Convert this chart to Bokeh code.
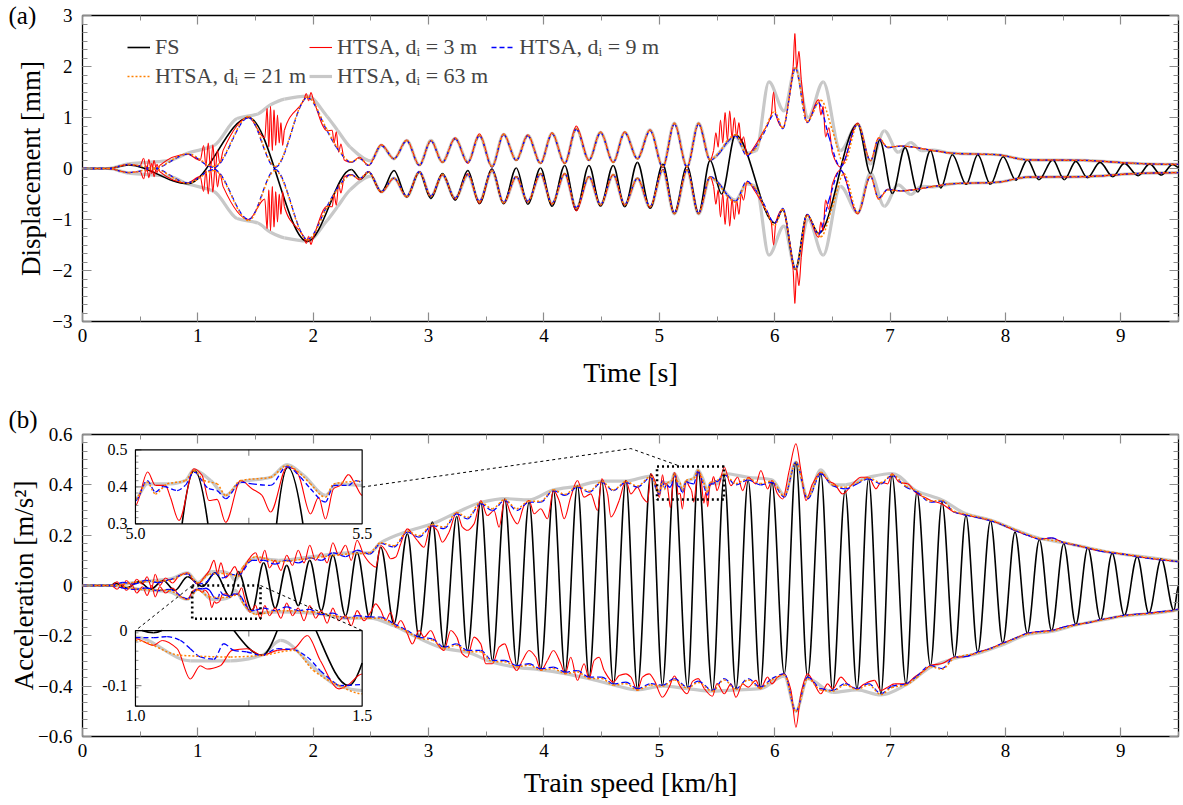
import numpy as np
from bokeh.plotting import figure
from bokeh.layouts import column
from bokeh.models import (Range1d, FixedTicker, LinearAxis, Legend, LegendItem,
                          CustomJSTickFormatter, ColumnDataSource)
from bokeh.core.properties import value
from bokeh.embed import file_html
from bokeh.resources import INLINE

FONT = "Liberation Serif"

# ---------------- Panel (a): displacement [mm] vs time [s] ----------------
A_FS = [(0.00,0.00),(0.22,0.00),(0.40,0.07),(0.91,-0.30),(1.44,1.00),(1.95,-1.43),(2.33,-0.02),
        (2.41,-0.20),(2.48,-0.07),(2.59,-0.46),(2.70,-0.04),(2.81,-0.56),(2.92,-0.07),(3.02,-0.59),
        (3.12,-0.10),(3.23,-0.62),(3.34,-0.04),(3.44,-0.69),(3.55,-0.01),(3.65,-0.69),(3.76,0.01),
        (3.86,-0.70),(3.97,0.01),(4.07,-0.74),(4.18,0.06),(4.28,-0.82),(4.39,0.06),(4.49,-0.74),
        (4.60,0.06),(4.70,-0.75),(4.81,0.12),(4.92,-0.78),(5.03,0.08),(5.13,-0.88),(5.24,0.05),
        (5.34,-0.88),(5.44,0.16),(5.54,-0.50),(5.66,0.66),(6.00,-1.07),(6.07,-0.81),(6.18,-1.98),
        (6.28,-0.91),(6.38,-1.27),(6.72,0.87),(6.83,-0.10),(6.91,0.56),(7.02,-0.49),(7.13,0.41),
        (7.24,-0.46),(7.35,0.35),(7.44,-0.38),(7.54,0.27),(7.66,-0.31),(7.76,0.27),(7.87,-0.31),
        (7.98,0.23),(8.09,-0.23),(8.19,0.17),(8.29,-0.22),(8.41,0.17),(8.51,-0.22),(8.61,0.14),
        (8.71,-0.18),(8.82,0.12),(8.93,-0.16),(9.03,0.10),(9.15,-0.14),(9.25,0.09),(9.35,-0.13),
        (9.45,0.08),(9.50,0.02)]
A_D9 = [(0.00,0.00),(0.22,0.00),(0.40,0.08),(0.62,0.00),(0.91,0.28),(1.14,0.02),(1.44,1.00),
        (1.67,0.02),(1.95,1.39),(2.12,0.74),(2.20,0.42),(2.33,0.12),(2.40,0.20),(2.48,0.06),
        (2.59,0.45),(2.70,0.19),(2.81,0.54),(2.92,0.06),(3.02,0.54),(3.12,0.12),(3.23,0.58),
        (3.34,0.12),(3.44,0.64),(3.55,0.03),(3.65,0.66),(3.76,0.16),(3.86,0.64),(3.97,0.10),
        (4.07,0.68),(4.18,0.10),(4.28,0.77),(4.39,0.16),(4.49,0.70),(4.60,0.12),(4.70,0.70),
        (4.81,0.19),(4.92,0.74),(5.03,0.02),(5.13,0.87),(5.24,0.02),(5.34,0.87),(5.44,0.16),
        (5.52,0.30),(5.59,0.52),(5.66,0.64),(5.76,0.25),(5.83,0.41),(5.90,0.67),(6.00,1.07),
        (6.07,0.78),(6.18,1.97),(6.28,0.90),(6.38,1.29),(6.47,0.62),(6.57,0.03),(6.72,0.87),
        (6.83,0.15),(6.90,0.58),(6.98,0.41),(7.09,0.44),(7.38,0.35),(7.53,0.30),(7.93,0.27),
        (8.19,0.17),(8.68,0.16),(9.12,0.10),(9.50,0.08)]
A_D3 = [(0.00,0.00),(0.22,0.00),(0.40,0.08),(0.50,0.06),(0.53,0.20),(0.555,-0.05),(0.575,0.18),
        (0.60,-0.10),(0.62,0.16),(0.645,-0.08),(0.67,0.06),(0.91,0.28),(1.02,0.16),(1.05,0.45),
        (1.07,0.04),(1.09,0.50),(1.11,-0.02),(1.13,0.46),(1.15,-0.05),(1.17,0.36),(1.19,0.10),
        (1.22,0.36),(1.44,1.00),(1.58,0.60),(1.60,1.18),(1.615,0.42),(1.63,1.22),(1.645,0.35),
        (1.66,1.15),(1.675,0.45),(1.69,1.05),(1.705,0.50),(1.72,0.90),(1.735,0.45),(1.75,0.75),
        (1.92,1.35),(1.94,1.47),(1.96,1.33),(1.98,1.49),(2.00,1.36),(2.12,0.74),(2.165,0.75),
        (2.18,0.50),(2.20,0.72),(2.22,0.32),(2.24,0.48),(2.27,0.16),(2.33,0.12),(2.40,0.22),
        (2.48,0.06),(2.59,0.47),(2.70,0.19),(2.81,0.56),(2.92,0.06),(3.02,0.55),(3.12,0.12),
        (3.23,0.60),(3.34,0.10),(3.44,0.68),(3.55,0.03),(3.65,0.68),(3.76,0.16),(3.86,0.66),
        (3.97,0.10),(4.07,0.70),(4.18,0.10),(4.28,0.83),(4.39,0.16),(4.49,0.72),(4.60,0.12),
        (4.70,0.72),(4.81,0.19),(4.92,0.76),(5.03,0.02),(5.13,0.89),(5.24,0.02),(5.34,0.89),
        (5.44,0.16),(5.47,0.35),(5.49,0.70),(5.51,0.42),(5.53,0.95),(5.55,0.50),(5.57,1.10),
        (5.59,0.55),(5.61,1.13),(5.63,0.60),(5.65,1.00),(5.67,0.62),(5.69,0.90),(5.71,0.50),
        (5.73,0.62),(5.76,0.25),(5.83,0.45),(5.90,0.72),(5.97,1.05),(5.99,1.50),(6.01,1.05),
        (6.07,0.80),(6.13,1.45),(6.16,2.00),(6.175,2.65),(6.19,1.95),(6.21,2.30),(6.23,1.75),
        (6.28,0.90),(6.38,1.35),(6.40,1.05),(6.42,1.22),(6.44,0.62),(6.47,0.80),(6.50,0.30),
        (6.57,0.03),(6.72,0.89),(6.83,0.15),(6.90,0.60),(6.98,0.41),(7.09,0.44),(7.38,0.35),
        (7.53,0.30),(7.93,0.27),(8.19,0.17),(8.68,0.16),(9.12,0.10),(9.50,0.08)]
A_D21 = [(0.00,0.00),(0.22,0.00),(0.40,0.08),(0.62,0.01),(0.91,0.29),(1.14,0.04),(1.44,1.02),
         (1.67,0.04),(1.95,1.40),(2.12,0.76),(2.20,0.44),(2.33,0.13),(2.40,0.20),(2.48,0.07),
         (2.59,0.46),(2.70,0.19),(2.81,0.55),(2.92,0.07),(3.02,0.55),(3.12,0.12),(3.23,0.59),
         (3.34,0.12),(3.44,0.65),(3.55,0.04),(3.65,0.67),(3.76,0.16),(3.86,0.65),(3.97,0.10),
         (4.07,0.69),(4.18,0.10),(4.28,0.78),(4.39,0.16),(4.49,0.71),(4.60,0.12),(4.70,0.71),
         (4.81,0.19),(4.92,0.75),(5.03,0.03),(5.13,0.88),(5.24,0.03),(5.34,0.88),(5.44,0.17),
         (5.52,0.32),(5.59,0.55),(5.66,0.66),(5.76,0.28),(5.83,0.38),(5.92,0.80),(6.00,1.12),
         (6.07,0.80),(6.18,1.97),(6.28,0.92),(6.40,1.34),(6.50,0.75),(6.60,0.10),(6.72,0.87),
         (6.83,0.15),(6.90,0.60),(6.98,0.42),(7.09,0.44),(7.38,0.35),(7.53,0.30),(7.93,0.27),
         (8.19,0.17),(8.68,0.16),(9.12,0.10),(9.50,0.08)]
A_D63 = [(0.00,0.00),(0.22,0.00),(0.40,0.09),(0.56,0.12),(0.76,0.16),(0.91,0.30),(1.14,0.45),
         (1.34,0.98),(1.52,1.07),(1.63,1.25),(1.75,1.36),(1.95,1.42),(2.12,1.02),(2.21,0.75),
         (2.32,0.42),(2.50,0.15),(2.59,0.46),(2.70,0.19),(2.81,0.55),(2.92,0.07),(3.02,0.55),
         (3.12,0.13),(3.23,0.59),(3.34,0.13),(3.44,0.65),(3.55,0.05),(3.65,0.67),(3.76,0.17),
         (3.86,0.65),(3.97,0.11),(4.07,0.69),(4.18,0.11),(4.28,0.78),(4.39,0.17),(4.49,0.71),
         (4.60,0.13),(4.70,0.71),(4.81,0.20),(4.92,0.76),(5.03,0.04),(5.13,0.89),(5.24,0.04),
         (5.34,0.89),(5.44,0.18),(5.66,0.62),(5.76,0.30),(5.84,0.35),(5.95,1.70),(6.08,1.13),
         (6.18,1.97),(6.29,1.00),(6.42,1.70),(6.57,0.35),(6.72,0.87),(6.83,0.09),(6.95,0.74),
         (7.07,0.32),(7.18,0.51),(7.27,0.35),(7.38,0.36),(7.53,0.30),(7.93,0.27),(8.19,0.17),
         (8.68,0.16),(9.12,0.10),(9.50,0.08)]

# ---------------- Panel (b): acceleration [m/s^2] ----------------
B_FS = [(0.00,0.0),(0.25,0.0),(0.28,0.01),(0.38,-0.01),(0.49,0.015),(0.59,-0.015),(0.70,0.02),
        (0.80,-0.02),(0.91,0.035),(1.04,-0.004),(1.15,0.05),(1.28,-0.045),(1.35,0.055),(1.47,-0.10),
        (1.57,0.09),(1.67,-0.09),(1.77,0.08),(1.87,-0.08),(1.97,0.10),(2.07,-0.10),(2.17,0.12),
        (2.28,-0.12),(2.38,0.13),(2.49,-0.13),(2.585,0.152),(2.70,-0.152),(2.816,0.205),
        (2.917,-0.205),(3.033,0.252),(3.134,-0.245),(3.244,0.274),(3.336,-0.258),(3.452,0.331),
        (3.553,-0.298),(3.66,0.344),(3.764,-0.318),(3.871,0.331),(3.972,-0.331),(4.082,0.377),
        (4.183,-0.344),(4.29,0.397),(4.391,-0.364),(4.501,0.417),(4.602,-0.391),(4.71,0.417),
        (4.81,-0.41),(4.926,0.444),(5.027,-0.397),(5.13,0.444),(5.244,-0.404),(5.336,0.453),
        (5.461,-0.417),(5.562,0.437),(5.664,-0.41),(5.77,0.417),(5.875,-0.404),(5.976,0.41),
        (6.083,-0.351),(6.184,0.49),(6.285,-0.364),(6.40,0.444),(6.502,-0.417),(6.611,0.377),
        (6.713,-0.41),(6.814,0.424),(6.921,-0.43),(7.017,0.437),(7.138,-0.391),(7.233,0.371),
        (7.35,-0.318),(7.45,0.331),(7.558,-0.285),(7.658,0.278),(7.76,-0.265),(7.87,0.256),
        (7.977,-0.229),(8.083,0.212),(8.19,-0.19),(8.294,0.182),(8.40,-0.179),(8.505,0.166),
        (8.61,-0.155),(8.714,0.15),(8.824,-0.136),(8.925,0.128),(9.03,-0.119),(9.142,0.115),
        (9.243,-0.11),(9.35,0.106),(9.46,-0.099),(9.50,0.0)]
B_D9_UP = [(0.00,0.0),(0.25,0.0),(0.35,0.012),(0.45,0.006),(0.55,0.02),(0.65,0.012),(0.75,0.022),
           (0.91,0.046),(1.00,0.005),(1.07,0.012),(1.15,0.05),(1.22,0.03),(1.28,0.045),(1.35,0.04),
           (1.47,0.10),(1.57,0.10),(1.67,0.085),(1.77,0.10),(1.87,0.09),(1.97,0.11),(2.07,0.10),
           (2.17,0.13),(2.28,0.115),(2.38,0.14),(2.49,0.125),(2.585,0.167),(2.70,0.153),
           (2.816,0.212),(2.917,0.192),(3.033,0.238),(3.134,0.226),(3.244,0.285),(3.336,0.265),
           (3.452,0.325),(3.553,0.298),(3.66,0.338),(3.764,0.298),(3.871,0.331),(3.972,0.331),
           (4.082,0.377),(4.183,0.358),(4.29,0.391),(4.391,0.371),(4.501,0.41),(4.602,0.377),
           (4.71,0.41),(4.81,0.391),(4.926,0.43),(5.0,0.363),(5.026,0.417),(5.044,0.386),
           (5.062,0.401),(5.092,0.390),(5.110,0.404),(5.129,0.440),(5.162,0.395),(5.180,0.390),
           (5.199,0.368),(5.232,0.413),(5.257,0.408),(5.298,0.404),(5.334,0.455),(5.364,0.426),
           (5.386,0.395),(5.419,0.359),(5.437,0.404),(5.470,0.404),(5.485,0.417),(5.5,0.413),
           (5.562,0.44),(5.664,0.40),(5.77,0.42),(5.875,0.40),(5.976,0.41),(6.083,0.351),
           (6.184,0.49),(6.285,0.344),(6.40,0.444),(6.502,0.397),(6.611,0.384),(6.713,0.404),
           (6.814,0.424),(6.921,0.404),(7.017,0.437),(7.138,0.391),(7.233,0.371),(7.35,0.331),
           (7.45,0.335),(7.558,0.291),(7.658,0.28),(7.76,0.27),(7.87,0.258),(7.977,0.24),
           (8.083,0.219),(8.19,0.20),(8.294,0.185),(8.40,0.189),(8.505,0.17),(8.61,0.16),
           (8.714,0.148),(8.824,0.137),(8.925,0.13),(9.03,0.124),(9.142,0.115),(9.243,0.108),
           (9.35,0.102),(9.46,0.097),(9.50,0.095)]
B_D9_LO = [(0.00,0.0),(0.25,0.0),(0.35,-0.01),(0.45,-0.015),(0.55,-0.01),(0.65,-0.02),(0.75,-0.015),
           (0.91,-0.053),(1.00,-0.013),(1.040,-0.013),(1.070,-0.011),(1.099,-0.018),(1.121,-0.033),
           (1.143,-0.048),(1.173,-0.052),(1.195,-0.024),(1.217,-0.036),(1.246,-0.039),(1.279,-0.045),
           (1.313,-0.033),(1.349,-0.035),(1.379,-0.048),(1.408,-0.073),(1.438,-0.094),(1.449,-0.100),
           (1.5,-0.098),(1.57,-0.09),(1.67,-0.10),(1.77,-0.085),(1.87,-0.10),(1.97,-0.095),
           (2.07,-0.115),(2.17,-0.11),(2.28,-0.13),(2.38,-0.12),(2.49,-0.125),(2.585,-0.126),
           (2.70,-0.152),(2.816,-0.179),(2.917,-0.205),(3.033,-0.212),(3.134,-0.245),(3.244,-0.232),
           (3.336,-0.258),(3.452,-0.258),(3.553,-0.298),(3.66,-0.298),(3.764,-0.318),(3.871,-0.311),
           (3.972,-0.331),(4.082,-0.324),(4.183,-0.344),(4.29,-0.338),(4.391,-0.364),(4.501,-0.364),
           (4.602,-0.391),(4.71,-0.384),(4.81,-0.41),(4.926,-0.39),(5.027,-0.397),(5.13,-0.37),
           (5.244,-0.404),(5.336,-0.38),(5.461,-0.417),(5.562,-0.37),(5.664,-0.41),(5.77,-0.37),
           (5.875,-0.404),(5.976,-0.37),(6.083,-0.351),(6.184,-0.50),(6.285,-0.364),(6.40,-0.41),
           (6.502,-0.417),(6.611,-0.39),(6.713,-0.41),(6.814,-0.39),(6.921,-0.43),(7.017,-0.40),
           (7.138,-0.391),(7.233,-0.36),(7.35,-0.318),(7.45,-0.33),(7.558,-0.285),(7.658,-0.282),
           (7.76,-0.265),(7.87,-0.25),(7.977,-0.229),(8.083,-0.21),(8.19,-0.19),(8.294,-0.183),
           (8.40,-0.179),(8.505,-0.165),(8.61,-0.155),(8.714,-0.148),(8.824,-0.136),(8.925,-0.128),
           (9.03,-0.119),(9.142,-0.114),(9.243,-0.11),(9.35,-0.104),(9.46,-0.099),(9.50,-0.094)]
B_D3_UP = [(0.00,0.0),(0.25,0.0),(0.30,0.015),(0.34,-0.01),(0.38,0.02),(0.43,0.0),(0.47,0.025),
           (0.52,0.005),(0.56,0.035),(0.60,-0.01),(0.63,0.045),(0.67,0.0),(0.72,0.03),(0.78,0.01),
           (0.84,0.04),(0.91,0.05),(0.96,0.02),(1.00,0.005),(1.05,0.03),(1.10,0.06),(1.14,0.10),
           (1.17,0.05),(1.20,0.09),(1.24,0.03),(1.28,0.05),(1.32,0.075),(1.36,0.04),(1.40,0.07),
           (1.45,0.11),(1.50,0.13),(1.54,0.09),(1.58,0.14),(1.62,0.07),(1.67,0.10),(1.72,0.06),
           (1.77,0.12),(1.82,0.08),(1.87,0.14),(1.92,0.09),(1.97,0.16),(2.02,0.10),(2.07,0.13),
           (2.12,0.09),(2.17,0.17),(2.22,0.12),(2.28,0.16),(2.33,0.10),(2.38,0.18),(2.44,0.12),
           (2.498,0.086),(2.541,0.073),(2.585,0.159),(2.628,0.139),(2.671,0.106),(2.715,0.113),
           (2.758,0.166),(2.816,0.225),(2.859,0.205),(2.902,0.179),(2.960,0.152),(3.018,0.238),
           (3.076,0.219),(3.119,0.172),(3.177,0.212),(3.244,0.291),(3.293,0.232),(3.336,0.219),
           (3.394,0.245),(3.452,0.338),(3.509,0.278),(3.567,0.298),(3.611,0.232),(3.660,0.344),
           (3.712,0.285),(3.770,0.245),(3.828,0.318),(3.871,0.338),(3.915,0.285),(3.972,0.305),
           (4.030,0.265),(4.082,0.377),(4.131,0.338),(4.175,0.265),(4.232,0.351),(4.290,0.417),
           (4.348,0.351),(4.406,0.364),(4.464,0.298),(4.501,0.424),(4.551,0.364),(4.580,0.272),
           (4.652,0.338),(4.710,0.417),(4.753,0.364),(4.810,0.391),(4.854,0.351),(4.898,0.331),
           (4.926,0.444),(4.970,0.404),(5.0,0.350),(5.027,0.440),(5.044,0.404),(5.066,0.404),
           (5.077,0.372),(5.096,0.309),(5.129,0.449),(5.147,0.431),(5.162,0.363),(5.180,0.366),
           (5.199,0.304),(5.232,0.417),(5.257,0.395),(5.279,0.377),(5.298,0.332),(5.334,0.453),
           (5.349,0.449),(5.360,0.431),(5.386,0.327),(5.404,0.372),(5.419,0.313),(5.437,0.395),
           (5.452,0.404),(5.470,0.433),(5.485,0.406),(5.5,0.377),(5.563,0.47),(5.621,0.397),
           (5.679,0.43),(5.722,0.377),(5.770,0.43),(5.837,0.404),(5.880,0.457),(5.938,0.384),
           (5.976,0.417),(6.025,0.364),(6.068,0.344),(6.126,0.457),(6.184,0.563),(6.227,0.457),
           (6.271,0.338),(6.328,0.404),(6.400,0.45),(6.459,0.417),(6.516,0.404),(6.589,0.364),
           (6.676,0.404),(6.748,0.43),(6.814,0.43),(6.878,0.384),(6.921,0.41),(6.979,0.404),
           (7.017,0.444),(7.080,0.41),(7.153,0.404),(7.233,0.364),(7.297,0.351),(7.355,0.338),
           (7.450,0.324)]
B_D3_LO = [(0.00,0.0),(0.25,0.0),(0.30,-0.015),(0.34,0.005),(0.38,-0.02),(0.43,0.0),(0.47,-0.03),
           (0.52,-0.005),(0.56,-0.04),(0.60,0.0),(0.63,-0.045),(0.67,-0.005),(0.72,-0.03),
           (0.78,-0.01),(0.84,-0.04),(0.91,-0.055),(0.96,-0.02),(1.0,-0.015),(1.040,-0.027),
           (1.059,-0.018),(1.092,-0.033),(1.121,-0.088),(1.143,-0.064),(1.158,-0.070),(1.187,-0.064),
           (1.213,-0.036),(1.246,-0.033),(1.279,-0.045),(1.313,-0.036),(1.349,-0.033),(1.379,-0.009),
           (1.408,-0.055),(1.449,-0.106),(1.467,-0.100),(1.5,-0.079),(1.54,-0.13),(1.58,-0.08),
           (1.62,-0.12),(1.67,-0.09),(1.72,-0.13),(1.77,-0.07),(1.82,-0.12),(1.87,-0.09),(1.92,-0.14),
           (1.97,-0.08),(2.02,-0.13),(2.07,-0.10),(2.12,-0.15),(2.17,-0.09),(2.22,-0.14),(2.28,-0.12),
           (2.33,-0.16),(2.38,-0.10),(2.44,-0.14),(2.498,-0.106),(2.541,-0.073),(2.585,-0.099),
           (2.628,-0.139),(2.671,-0.106),(2.715,-0.166),(2.758,-0.139),(2.816,-0.192),(2.859,-0.232),
           (2.917,-0.179),(2.960,-0.205),(3.018,-0.179),(3.076,-0.232),(3.134,-0.258),(3.192,-0.179),
           (3.244,-0.205),(3.293,-0.272),(3.336,-0.285),(3.394,-0.205),(3.452,-0.232),(3.496,-0.311),
           (3.553,-0.311),(3.611,-0.245),(3.660,-0.232),(3.712,-0.298),(3.764,-0.338),(3.813,-0.298),
           (3.871,-0.258),(3.929,-0.285),(3.972,-0.338),(4.030,-0.298),(4.082,-0.258),(4.146,-0.311),
           (4.183,-0.351),(4.232,-0.285),(4.290,-0.377),(4.348,-0.311),(4.391,-0.371),(4.435,-0.298),
           (4.478,-0.285),(4.522,-0.338),(4.602,-0.384),(4.652,-0.358),(4.710,-0.351),(4.753,-0.364),
           (4.810,-0.417),(4.854,-0.364),(4.912,-0.351),(4.956,-0.377),(5.027,-0.444),(5.085,-0.404),
           (5.13,-0.36),(5.18,-0.40),(5.24,-0.43),(5.29,-0.38),(5.336,-0.37),(5.39,-0.41),(5.46,-0.44),
           (5.5,-0.39),(5.563,-0.430),(5.621,-0.391),(5.664,-0.444),(5.722,-0.391),(5.770,-0.404),
           (5.837,-0.377),(5.875,-0.411),(5.938,-0.364),(5.976,-0.391),(6.025,-0.364),(6.083,-0.351),
           (6.141,-0.417),(6.184,-0.563),(6.227,-0.430),(6.285,-0.351),(6.343,-0.391),(6.400,-0.430),
           (6.459,-0.391),(6.502,-0.411),(6.574,-0.364),(6.632,-0.391),(6.713,-0.411),(6.777,-0.391),
           (6.864,-0.377),(6.921,-0.417),(6.979,-0.404),(7.037,-0.391),(7.138,-0.391),(7.210,-0.364),
           (7.297,-0.338),(7.349,-0.318),(7.450,-0.310)]
B_D21_UP = [(0.00,0.0),(0.25,0.0),(0.5,0.015),(0.75,0.02),(0.91,0.048),(1.00,0.01),(1.10,0.045),
            (1.21,0.048),(1.28,0.045),(1.35,0.036),(1.39,0.073),(1.449,0.10),(1.5,0.115),(1.7,0.095),
            (2.0,0.11),(2.3,0.125),(2.49,0.13),(2.585,0.17),(2.70,0.158),(2.816,0.215),(2.917,0.198),
            (3.033,0.242),(3.134,0.232),(3.244,0.29),(3.336,0.27),(3.452,0.33),(3.553,0.305),
            (3.66,0.342),(3.764,0.305),(3.871,0.335),(3.972,0.335),(4.082,0.38),(4.183,0.362),
            (4.29,0.395),(4.391,0.375),(4.501,0.413),(4.602,0.38),(4.71,0.413),(4.81,0.395),
            (4.926,0.433),(5.0,0.368),(5.026,0.413),(5.044,0.381),(5.070,0.408),(5.110,0.417),
            (5.129,0.444),(5.151,0.417),(5.180,0.408),(5.199,0.377),(5.232,0.417),(5.298,0.426),
            (5.334,0.458),(5.364,0.435),(5.386,0.408),(5.419,0.372),(5.437,0.408),(5.5,0.417),
            (5.562,0.443),(5.664,0.405),(5.77,0.425),(5.875,0.405),(5.976,0.415),(6.083,0.355),
            (6.184,0.49),(6.285,0.35),(6.40,0.45),(6.502,0.40),(6.611,0.39),(6.713,0.408),
            (6.814,0.428),(6.921,0.408),(7.017,0.44),(7.138,0.395),(7.233,0.375),(7.35,0.335),
            (7.45,0.338),(7.558,0.294),(7.658,0.283),(7.87,0.26),(8.083,0.222),(8.294,0.187),
            (8.505,0.172),(8.714,0.15),(8.925,0.132),(9.142,0.117),(9.35,0.104),(9.5,0.097)]
B_D21_LO = [(0.00,0.0),(0.25,0.0),(0.5,-0.015),(0.75,-0.02),(0.91,-0.055),(1.0,-0.018),(1.099,-0.045),
            (1.210,-0.048),(1.279,-0.045),(1.349,-0.036),(1.393,-0.073),(1.449,-0.10),(1.5,-0.115),
            (1.7,-0.1),(2.0,-0.105),(2.3,-0.128),(2.49,-0.13),(2.585,-0.13),(2.70,-0.157),
            (2.816,-0.183),(2.917,-0.21),(3.033,-0.217),(3.134,-0.25),(3.244,-0.237),(3.336,-0.263),
            (3.452,-0.263),(3.553,-0.303),(3.66,-0.303),(3.764,-0.323),(3.871,-0.316),(3.972,-0.336),
            (4.082,-0.33),(4.183,-0.35),(4.29,-0.343),(4.391,-0.37),(4.501,-0.37),(4.602,-0.396),
            (4.71,-0.39),(4.81,-0.415),(4.926,-0.395),(5.027,-0.40),(5.13,-0.375),(5.244,-0.408),
            (5.336,-0.385),(5.461,-0.42),(5.562,-0.375),(5.664,-0.413),(5.77,-0.375),(5.875,-0.408),
            (5.976,-0.375),(6.083,-0.355),(6.184,-0.50),(6.285,-0.37),(6.40,-0.415),(6.502,-0.42),
            (6.611,-0.395),(6.713,-0.413),(6.814,-0.395),(6.921,-0.433),(7.017,-0.405),(7.138,-0.395),
            (7.233,-0.365),(7.35,-0.322),(7.45,-0.333),(7.558,-0.288),(7.76,-0.268),(7.977,-0.232),
            (8.19,-0.193),(8.40,-0.181),(8.61,-0.157),(8.824,-0.138),(9.03,-0.121),(9.243,-0.112),
            (9.46,-0.1),(9.5,-0.096)]
B_D63_UP = [(0,0.0),(0.25,0.0),(0.5,0.015),(0.75,0.025),(0.91,0.05),(1.00,0.012),(1.12,0.055),
            (1.21,0.055),(1.28,0.045),(1.32,0.02),(1.39,0.067),(1.445,0.10),(1.5,0.109),(1.7,0.10),
            (2.0,0.115),(2.3,0.13),(2.49,0.13),(2.585,0.17),(2.816,0.215),(3.033,0.245),(3.244,0.29),
            (3.452,0.33),(3.66,0.345),(3.871,0.34),(4.082,0.38),(4.29,0.395),(4.501,0.415),
            (4.71,0.415),(4.926,0.435),(5.0,0.368),(5.026,0.408),(5.077,0.408),(5.110,0.417),
            (5.129,0.446),(5.166,0.417),(5.199,0.377),(5.232,0.413),(5.298,0.426),(5.334,0.460),
            (5.371,0.431),(5.419,0.377),(5.445,0.408),(5.5,0.404),(5.562,0.445),(5.77,0.43),
            (5.976,0.42),(6.083,0.36),(6.184,0.49),(6.285,0.35),(6.40,0.46),(6.502,0.40),(6.611,0.40),
            (6.814,0.43),(7.017,0.445),(7.233,0.375),(7.45,0.34),(7.658,0.285),(7.87,0.26),
            (8.083,0.222),(8.294,0.188),(8.505,0.17),(8.714,0.15),(8.925,0.13),(9.142,0.117),
            (9.35,0.105),(9.5,0.097)]
B_D63_LO = [(0,0.0),(0.25,0.0),(0.5,-0.015),(0.75,-0.025),(0.91,-0.055),(1.00,-0.012),(1.121,-0.055),
            (1.210,-0.055),(1.279,-0.045),(1.320,-0.018),(1.393,-0.067),(1.445,-0.10),(1.5,-0.109),
            (1.7,-0.105),(2.0,-0.11),(2.3,-0.13),(2.49,-0.13),(2.70,-0.16),(2.917,-0.21),(3.134,-0.25),
            (3.336,-0.265),(3.553,-0.305),(3.764,-0.325),(3.972,-0.335),(4.183,-0.35),(4.391,-0.37),
            (4.602,-0.395),(4.81,-0.415),(5.027,-0.40),(5.244,-0.41),(5.461,-0.42),(5.664,-0.415),
            (5.875,-0.41),(6.083,-0.36),(6.184,-0.50),(6.285,-0.37),(6.502,-0.425),(6.713,-0.415),
            (6.921,-0.435),(7.138,-0.395),(7.35,-0.325),(7.558,-0.29),(7.76,-0.27),(7.977,-0.235),
            (8.19,-0.195),(8.40,-0.182),(8.61,-0.157),(8.824,-0.138),(9.03,-0.121),(9.243,-0.112),
            (9.46,-0.1),(9.5,-0.096)]

X_TICKS = [0, 1, 2, 3, 4, 5, 6, 7, 8, 9]
A_Y_TICKS = [-3, -2, -1, 0, 1, 2, 3]
B_Y_TICKS = [-0.6, -0.4, -0.2, 0, 0.2, 0.4, 0.6]
LEGEND_LABELS = ["FS", "HTSA, dᵢ = 3 m", "HTSA, dᵢ = 9 m", "HTSA, dᵢ = 21 m", "HTSA, dᵢ = 63 m"]

# insets: zoom window (data) and the box it occupies in panel (b) data units
INSET_1 = dict(win=(5.0, 5.5, 0.3, 0.5), box=(0.459, 2.424, 0.245, 0.539),
               yticks=[0.3, 0.4, 0.5], ylabels=["0.3", "0.4", "0.5"],
               xticks=[5.0, 5.5], xlabels=["5.0", "5.5"], xminor=[5.25])
INSET_2 = dict(win=(1.0, 1.5, -0.1375, 0.0), box=(0.459, 2.424, -0.4796, -0.179),
               yticks=[-0.1, 0.0], ylabels=["-0.1", "0"],
               xticks=[1.0, 1.5], xlabels=["1.0", "1.5"], xminor=[1.25])
ZOOM_BOX_1 = (4.98, 5.56, 0.342, 0.473)
ZOOM_BOX_2 = (0.951, 1.543, -0.132, 0.0)
LINK_1 = ([2.424, 4.753, 5.186], [0.391, 0.544, 0.473])
LINK_2A = ([0.951, 0.459], [0.0, -0.179])
LINK_2B = ([1.543, 2.424], [0.0, -0.179])

W = 1182
H_A = 400
H_B = 405
FRAME_W = 1096
FRAME_H_B = 302

STY = {
    "fs": dict(line_color="black", line_width=1.6),
    "d3": dict(line_color="#ff0000", line_width=1.1),
    "d9": dict(line_color="#0000ff", line_width=1.3, line_dash="5 3"),
    "d21": dict(line_color="#ff8000", line_width=1.5, line_dash="2 2"),
    "d63": dict(line_color="#c8c8c8", line_width=3.2),
}


def bez_arrays(pts):
    pts = sorted(dict(pts).items())
    t = np.array([p[0] for p in pts], float)
    v = np.array([p[1] for p in pts], float)
    h = np.diff(t)
    d = np.diff(v) / h
    m = np.zeros_like(v)
    for i in range(1, len(t) - 1):
        if d[i - 1] * d[i] > 0:
            w1 = 2 * h[i] + h[i - 1]
            w2 = h[i] + 2 * h[i - 1]
            m[i] = (w1 + w2) / (w1 / d[i - 1] + w2 / d[i])
    return dict(x0=t[:-1], y0=v[:-1], x1=t[1:], y1=v[1:],
                cx0=t[:-1] + h / 3, cy0=v[:-1] + m[:-1] * h / 3,
                cx1=t[1:] - h / 3, cy1=v[1:] - m[1:] * h / 3)


def draw_bez(p, arr, key):
    return p.bezier(x0="x0", y0="y0", x1="x1", y1="y1", cx0="cx0", cy0="cy0",
                    cx1="cx1", cy1="cy1", source=ColumnDataSource(arr), **STY[key])


def curve(p, pts, key):
    return draw_bez(p, bez_arrays(pts), key)


def neg(pts):
    return [(t, -v) for t, v in pts]


# ---- clipping of bezier segments to an inset window, then affine map into the inset box
def _split(P, t):
    P01 = P[0] + (P[1] - P[0]) * t
    P12 = P[1] + (P[2] - P[1]) * t
    P23 = P[2] + (P[3] - P[2]) * t
    P012 = P01 + (P12 - P01) * t
    P123 = P12 + (P23 - P12) * t
    M = P012 + (P123 - P012) * t
    return np.array([P[0], P01, P012, M]), np.array([M, P123, P23, P[3]])


def _sub(P, ta, tb):
    left, _ = _split(P, tb)
    if tb <= 0:
        return left
    _, right = _split(left, ta / tb)
    return right


def _eval(P, t):
    return ((1 - t) ** 3) * P[0] + 3 * ((1 - t) ** 2) * t * P[1] + 3 * (1 - t) * t * t * P[2] + t ** 3 * P[3]


def inset_arrays(arr, win, box):
    x0w, x1w, y0w, y1w = win
    X0, X1, Y0, Y1 = box
    segs = []
    for i in range(len(arr["x0"])):
        P = np.array([[arr["x0"][i], arr["y0"][i]], [arr["cx0"][i], arr["cy0"][i]],
                      [arr["cx1"][i], arr["cy1"][i]], [arr["x1"][i], arr["y1"][i]]])
        xs, ys = P[:, 0], P[:, 1]
        if xs.max() < x0w or xs.min() > x1w or ys.max() < y0w or ys.min() > y1w:
            continue
        if xs.min() >= x0w and xs.max() <= x1w and ys.min() >= y0w and ys.max() <= y1w:
            segs.append(P)
            continue
        ts = [0.0, 1.0]
        for k, lev in ((0, x0w), (0, x1w), (1, y0w), (1, y1w)):
            c = P[:, k]
            coeffs = [-c[0] + 3 * c[1] - 3 * c[2] + c[3], 3 * c[0] - 6 * c[1] + 3 * c[2],
                      -3 * c[0] + 3 * c[1], c[0] - lev]
            if max(abs(q) for q in coeffs[:3]) < 1e-15:
                continue
            for z in np.roots(coeffs):
                if abs(z.imag) < 1e-9 and 1e-9 < z.real < 1 - 1e-9:
                    ts.append(float(z.real))
        ts = sorted(set(ts))
        for ta, tb in zip(ts[:-1], ts[1:]):
            if tb - ta < 1e-9:
                continue
            pm = _eval(P, 0.5 * (ta + tb))
            if x0w - 1e-9 <= pm[0] <= x1w + 1e-9 and y0w - 1e-9 <= pm[1] <= y1w + 1e-9:
                segs.append(_sub(P, ta, tb))
    sx = (X1 - X0) / (x1w - x0w)
    sy = (Y1 - Y0) / (y1w - y0w)
    out = {k: [] for k in ("x0", "y0", "cx0", "cy0", "cx1", "cy1", "x1", "y1")}
    for S in segs:
        T = np.column_stack([X0 + (S[:, 0] - x0w) * sx, Y0 + (S[:, 1] - y0w) * sy])
        out["x0"].append(T[0, 0]); out["y0"].append(T[0, 1])
        out["cx0"].append(T[1, 0]); out["cy0"].append(T[1, 1])
        out["cx1"].append(T[2, 0]); out["cy1"].append(T[2, 1])
        out["x1"].append(T[3, 0]); out["y1"].append(T[3, 1])
    return out


def style_axis(ax, size="19px", tin=9, mtin=5, standoff=10, lab_standoff=13, lab_size="27px"):
    ax.axis_line_color = None
    ax.major_tick_in = tin
    ax.major_tick_out = 0
    ax.minor_tick_in = mtin
    ax.minor_tick_out = 0
    ax.major_tick_line_color = "#8c8c8c"
    ax.minor_tick_line_color = "#8c8c8c"
    ax.major_tick_line_width = 1.2
    ax.minor_tick_line_width = 1.0
    ax.major_label_text_font = FONT
    ax.major_label_text_font_size = size
    ax.major_label_text_color = "black"
    ax.major_label_standoff = standoff
    ax.axis_label_text_font = FONT
    ax.axis_label_text_font_size = lab_size
    ax.axis_label_text_font_style = "normal"
    ax.axis_label_text_color = "black"
    ax.axis_label_standoff = lab_standoff


def hidden_axis(ticker):
    ax = LinearAxis(ticker=ticker, formatter=CustomJSTickFormatter(code="return '';"))
    style_axis(ax, standoff=0, lab_standoff=0)
    return ax


def main_fig(height, btop, bbot, yr, yticks, yminor, ycode, xlabel, ylabel, xlab_so, ylab_so,
             tag, tag_align, tag_standoff):
    p = figure(width=W, height=height, x_range=Range1d(0, 9.5), y_range=Range1d(*yr),
               output_backend="svg", toolbar_location=None,
               min_border_left=82, min_border_right=4, min_border_top=btop, min_border_bottom=bbot)
    p.grid.visible = False
    p.outline_line_color = "black"
    p.outline_line_width = 1.3
    xt = FixedTicker(ticks=X_TICKS, minor_ticks=[0.5 * k for k in range(20)])
    yt = FixedTicker(ticks=yticks, minor_ticks=yminor)
    p.xaxis.ticker = xt
    p.yaxis.ticker = yt
    p.xaxis.formatter = CustomJSTickFormatter(code="return tick.toFixed(0);")
    p.yaxis.formatter = CustomJSTickFormatter(code=ycode)
    p.xaxis.axis_label = xlabel
    p.yaxis.axis_label = ylabel
    style_axis(p.xaxis[0], standoff=7, lab_standoff=xlab_so, lab_size="28px")
    style_axis(p.yaxis[0], standoff=10, lab_standoff=ylab_so)
    p.add_layout(hidden_axis(xt), "above")
    p.add_layout(hidden_axis(yt), "right")
    p.title.text = tag
    p.title.align = "left"
    p.title.offset = -74
    p.title.vertical_align = tag_align
    p.title.standoff = tag_standoff
    p.title.text_font = FONT
    p.title.text_font_size = "25px"
    p.title.text_font_style = "normal"
    p.title.text_color = "black"
    return p


# ---------- panel (a)
pa = main_fig(H_A, 15, 79, (-3, 3), A_Y_TICKS, [-3 + k / 6 for k in range(37)],
              "return (tick < 0 ? '\u2212' : '') + Math.abs(tick).toFixed(0);",
              "Time [s]", "Displacement [mm]", 12, 3, "(a)", "bottom", -26)
r63 = curve(pa, A_D63, "d63"); curve(pa, neg(A_D63), "d63")
r_fs = curve(pa, A_FS, "fs")
r3 = curve(pa, A_D3, "d3"); curve(pa, neg(A_D3), "d3")
r9 = curve(pa, A_D9, "d9"); curve(pa, neg(A_D9), "d9")
r21 = curve(pa, A_D21, "d21"); curve(pa, neg(A_D21), "d21")

legend = Legend(items=[LegendItem(label=LEGEND_LABELS[0], renderers=[r_fs]),
                       LegendItem(label=LEGEND_LABELS[1], renderers=[r3]),
                       LegendItem(label=LEGEND_LABELS[2], renderers=[r9]),
                       LegendItem(label=LEGEND_LABELS[3], renderers=[r21]),
                       LegendItem(label=LEGEND_LABELS[4], renderers=[r63])],
                location=(45, 232), orientation="horizontal", ncols=3,
                label_text_font=FONT, label_text_font_size="22px", glyph_width=23,
                glyph_height=20, label_standoff=5, spacing=3, padding=0, margin=0,
                border_line_alpha=0, background_fill_alpha=0, label_height=24)
pa.add_layout(legend)

# ---------- panel (b)
B_CODE = "if (Math.abs(tick) < 1e-9) return '0'; return (tick < 0 ? '\u2212' : '') + Math.abs(tick).toFixed(1);"
pb = main_fig(H_B, 34, 69, (-0.6, 0.6), B_Y_TICKS, [-0.6 + k * 0.2 / 6 for k in range(37)],
              B_CODE, "Train speed [km/h]", "Acceleration [m/s²]", 7, -4, "(b)", "top", 0)

B_SERIES = [
    (B_D63_UP, "d63"), (B_D63_LO, "d63"), (B_FS, "fs"),
    (B_D3_UP + [q for q in B_D9_UP if q[0] > 7.5], "d3"),
    (B_D3_LO + [q for q in B_D9_LO if q[0] > 7.5], "d3"),
    (B_D9_UP, "d9"), (B_D9_LO, "d9"), (B_D21_UP, "d21"), (B_D21_LO, "d21"),
]
B_ARR = [(bez_arrays(pts), key) for pts, key in B_SERIES]
for arr, key in B_ARR:
    draw_bez(pb, arr, key)

for bx in (ZOOM_BOX_1, ZOOM_BOX_2):
    pb.quad(left=[bx[0]], right=[bx[1]], bottom=[bx[2]], top=[bx[3]], fill_color=None,
            line_color="black", line_width=2.6, line_dash="2 3")
for lk in (LINK_1, LINK_2A, LINK_2B):
    pb.line(lk[0], lk[1], line_color="black", line_width=1, line_dash="3 3")

PX_X = 9.5 / FRAME_W     # data units per pixel
PX_Y = 1.2 / FRAME_H_B


def draw_inset(p, spec):
    win, box = spec["win"], spec["box"]
    X0, X1, Y0, Y1 = box
    x0w, x1w, y0w, y1w = win
    p.quad(left=[X0], right=[X1], bottom=[Y0], top=[Y1], fill_color="white", line_color=None)
    for arr, key in B_ARR:
        sub = inset_arrays(arr, win, box)
        if sub["x0"]:
            draw_bez(p, sub, key)
    mapx = lambda x: X0 + (x - x0w) * (X1 - X0) / (x1w - x0w)
    mapy = lambda y: Y0 + (y - y0w) * (Y1 - Y0) / (y1w - y0w)
    step = 0.1 / 6
    n = int(round((y1w - y0w) / step))
    ymin = [mapy(y0w + k * step) for k in range(n + 1)]
    ymaj = [mapy(y) for y in spec["yticks"]]
    p.segment(x0=[X0] * len(ymin), x1=[X0 + 3 * PX_X] * len(ymin), y0=ymin, y1=ymin,
              line_color="#8c8c8c", line_width=1)
    p.segment(x0=[X0] * len(ymaj), x1=[X0 + 6 * PX_X] * len(ymaj), y0=ymaj, y1=ymaj,
              line_color="#8c8c8c", line_width=1.2)
    xm = [mapx(x) for x in spec["xminor"]]
    p.segment(x0=xm, x1=xm, y0=[Y0] * len(xm), y1=[Y0 + 6 * PX_Y] * len(xm),
              line_color="#8c8c8c", line_width=1.2)
    p.segment(x0=xm, x1=xm, y0=[Y1] * len(xm), y1=[Y1 - 6 * PX_Y] * len(xm),
              line_color="#8c8c8c", line_width=1.2)
    p.quad(left=[X0], right=[X1], bottom=[Y0], top=[Y1], fill_color=None,
           line_color="black", line_width=1.2)
    p.text(x=[X0 - 8 * PX_X] * len(ymaj), y=ymaj, text=spec["ylabels"], text_font=value(FONT),
           text_font_size="16px", text_align="right", text_baseline="middle", text_color="black")
    p.text(x=[mapx(x) for x in spec["xticks"]], y=[Y0 - 4 * PX_Y] * len(spec["xticks"]),
           text=spec["xlabels"], text_font=value(FONT), text_font_size="16px",
           text_align="center", text_baseline="top", text_color="black")


draw_inset(pb, INSET_1)
draw_inset(pb, INSET_2)

layout = column(pa, pb, spacing=0)

with open("out.html", "w", encoding="utf-8") as f:
    f.write(file_html(layout, INLINE))
